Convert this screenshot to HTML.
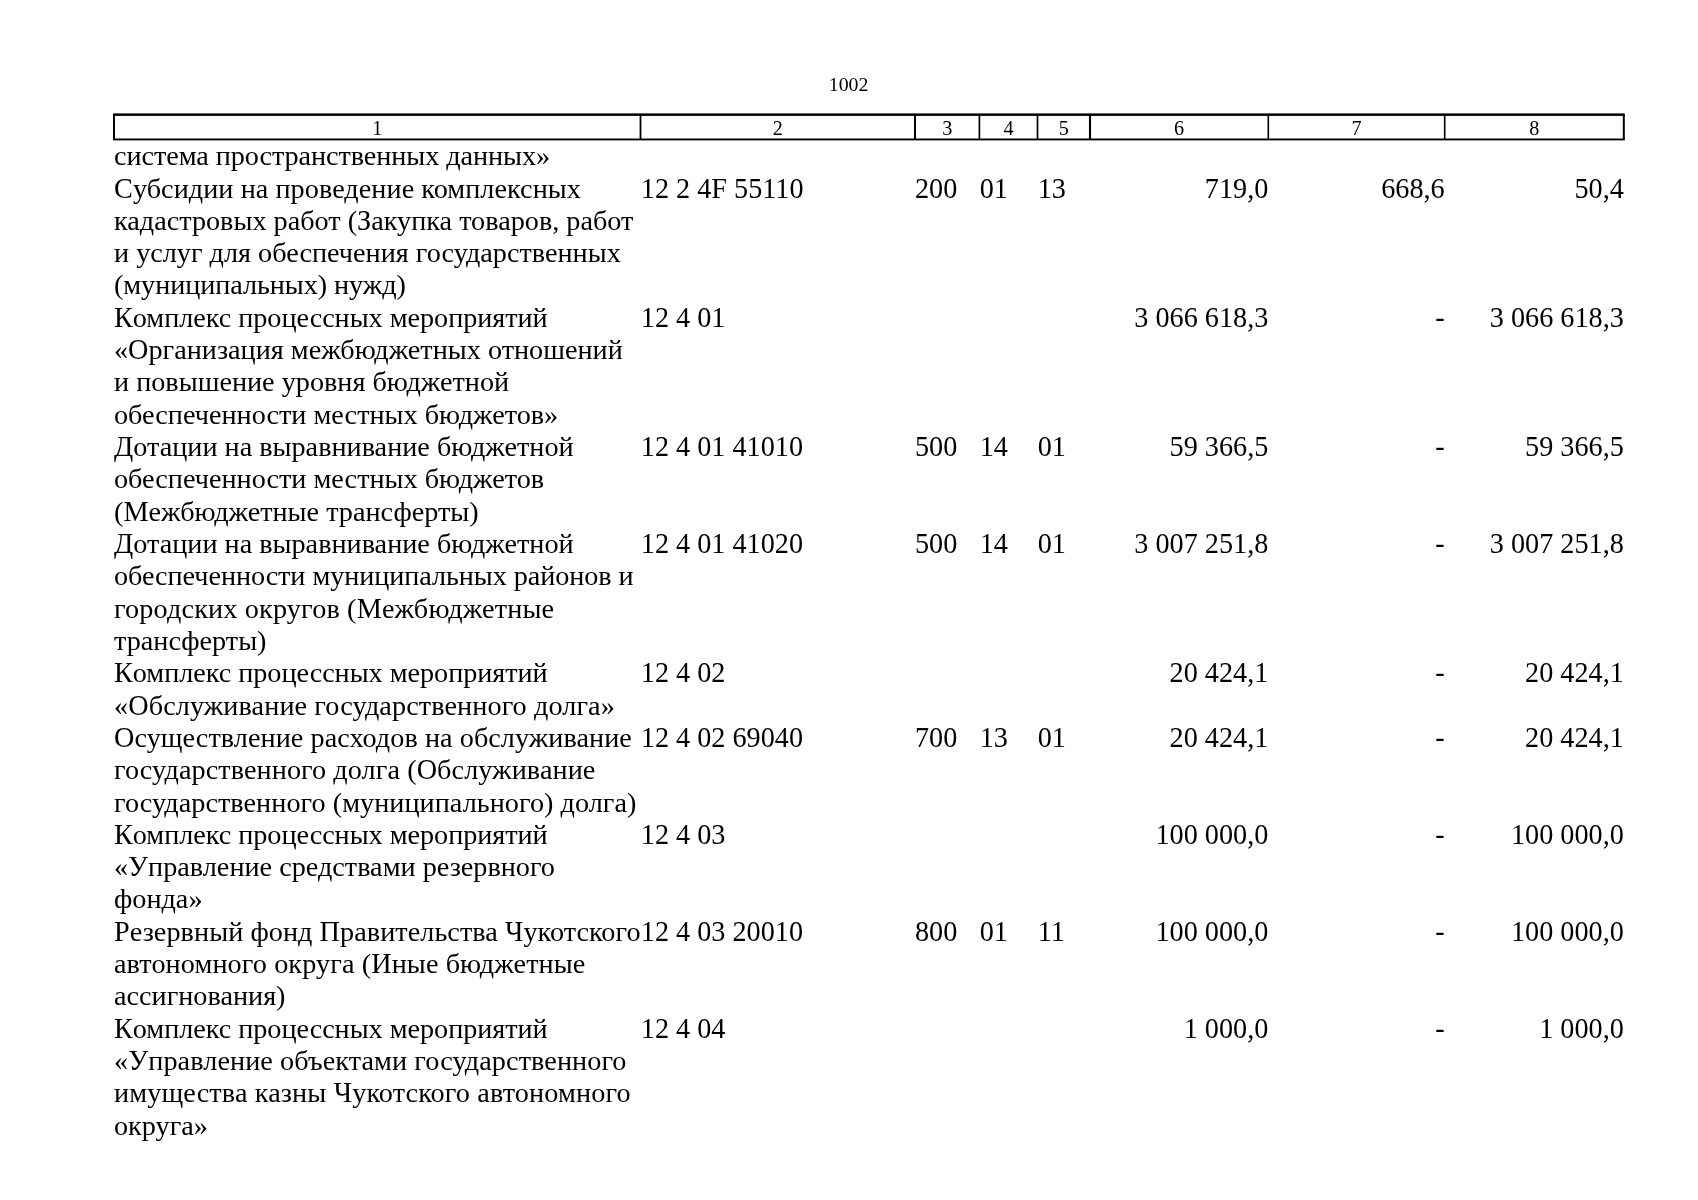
<!DOCTYPE html><html><head><meta charset="utf-8"><title>1002</title><style>
html,body{margin:0;padding:0;background:#fff;}
body{width:1698px;height:1200px;position:relative;overflow:hidden;-webkit-font-smoothing:antialiased;font-family:"Liberation Serif",serif;color:#000;}
.t{position:absolute;white-space:pre;font-size:28.23px;line-height:32.31px;height:32.31px;}
.h{position:absolute;white-space:pre;font-size:20.17px;line-height:24px;height:24px;}
.r{text-align:right;}
.c{display:inline-block;transform:scaleY(1.080);transform-origin:50% 25.68px;}
.n{transform:scaleY(1.070);transform-origin:0 25.68px;}
svg{position:absolute;left:0;top:0;}
#pg{position:absolute;left:0;top:0;width:1698px;height:1200px;will-change:transform;}
</style></head><body><div id="pg">
<div class="h" style="left:828.80px;top:72.17px;font-size:19.8px;">1002</div>
<div class="h" style="left:277.25px;top:115.99px;width:200px;text-align:center;">1</div>
<div class="h" style="left:677.75px;top:115.99px;width:200px;text-align:center;">2</div>
<div class="h" style="left:847.20px;top:115.99px;width:200px;text-align:center;">3</div>
<div class="h" style="left:908.45px;top:115.99px;width:200px;text-align:center;">4</div>
<div class="h" style="left:963.75px;top:115.99px;width:200px;text-align:center;">5</div>
<div class="h" style="left:1079.15px;top:115.99px;width:200px;text-align:center;">6</div>
<div class="h" style="left:1256.50px;top:115.99px;width:200px;text-align:center;">7</div>
<div class="h" style="left:1434.25px;top:115.99px;width:200px;text-align:center;">8</div>
<div class="t" style="left:114.00px;top:140.32px;letter-spacing:-0.074px;">система пространственных данных»</div>
<div class="t" style="left:114.00px;top:172.63px;letter-spacing:0.052px;"><span class="c">С</span>убсидии на проведение комплексных</div>
<div class="t" style="left:114.00px;top:204.94px;">кадастровых работ (<span class="c">З</span>акупка товаров, работ</div>
<div class="t" style="left:114.00px;top:237.25px;">и услуг для обеспечения государственных</div>
<div class="t" style="left:114.00px;top:268.56px;letter-spacing:-0.075px;">(муниципальных) нужд)</div>
<div class="t n" style="left:640.80px;top:172.63px;">12 2 4F 55110</div>
<div class="t n" style="left:915.00px;top:172.63px;">200</div>
<div class="t n" style="left:979.70px;top:172.63px;">01</div>
<div class="t n" style="left:1037.70px;top:172.63px;">13</div>
<div class="t n" style="right:429.70px;top:172.63px;">719,0</div>
<div class="t n" style="right:253.30px;top:172.63px;">668,6</div>
<div class="t n" style="right:74.20px;top:172.63px;">50,4</div>
<div class="t" style="left:114.00px;top:301.87px;letter-spacing:-0.040px;"><span class="c">К</span>омплекс процессных мероприятий</div>
<div class="t" style="left:114.00px;top:334.18px;">«<span class="c">О</span>рганизация межбюджетных отношений</div>
<div class="t" style="left:114.00px;top:366.49px;">и повышение уровня бюджетной</div>
<div class="t" style="left:114.00px;top:398.80px;">обеспеченности местных бюджетов»</div>
<div class="t n" style="left:640.80px;top:301.87px;">12 4 01</div>
<div class="t n" style="right:429.70px;top:301.87px;">3 066 618,3</div>
<div class="t n" style="right:253.30px;top:301.87px;">-</div>
<div class="t n" style="right:74.20px;top:301.87px;">3 066 618,3</div>
<div class="t" style="left:114.00px;top:431.11px;"><span class="c">Д</span>отации на выравнивание бюджетной</div>
<div class="t" style="left:114.00px;top:463.42px;">обеспеченности местных бюджетов</div>
<div class="t" style="left:114.00px;top:495.73px;">(<span class="c">М</span>ежбюджетные трансферты)</div>
<div class="t n" style="left:640.80px;top:431.11px;">12 4 01 41010</div>
<div class="t n" style="left:915.00px;top:431.11px;">500</div>
<div class="t n" style="left:979.70px;top:431.11px;">14</div>
<div class="t n" style="left:1037.70px;top:431.11px;">01</div>
<div class="t n" style="right:429.70px;top:431.11px;">59 366,5</div>
<div class="t n" style="right:253.30px;top:431.11px;">-</div>
<div class="t n" style="right:74.20px;top:431.11px;">59 366,5</div>
<div class="t" style="left:114.00px;top:528.04px;"><span class="c">Д</span>отации на выравнивание бюджетной</div>
<div class="t" style="left:114.00px;top:560.35px;letter-spacing:-0.076px;">обеспеченности муниципальных районов и</div>
<div class="t" style="left:114.00px;top:592.66px;letter-spacing:0.157px;">городских округов (<span class="c">М</span>ежбюджетные</div>
<div class="t" style="left:114.00px;top:624.97px;">трансферты)</div>
<div class="t n" style="left:640.80px;top:528.04px;">12 4 01 41020</div>
<div class="t n" style="left:915.00px;top:528.04px;">500</div>
<div class="t n" style="left:979.70px;top:528.04px;">14</div>
<div class="t n" style="left:1037.70px;top:528.04px;">01</div>
<div class="t n" style="right:429.70px;top:528.04px;">3 007 251,8</div>
<div class="t n" style="right:253.30px;top:528.04px;">-</div>
<div class="t n" style="right:74.20px;top:528.04px;">3 007 251,8</div>
<div class="t" style="left:114.00px;top:657.28px;letter-spacing:-0.040px;"><span class="c">К</span>омплекс процессных мероприятий</div>
<div class="t" style="left:114.00px;top:689.59px;letter-spacing:0.092px;">«<span class="c">О</span>бслуживание государственного долга»</div>
<div class="t n" style="left:640.80px;top:657.28px;">12 4 02</div>
<div class="t n" style="right:429.70px;top:657.28px;">20 424,1</div>
<div class="t n" style="right:253.30px;top:657.28px;">-</div>
<div class="t n" style="right:74.20px;top:657.28px;">20 424,1</div>
<div class="t" style="left:114.00px;top:721.90px;letter-spacing:0.049px;"><span class="c">О</span>существление расходов на обслуживание</div>
<div class="t" style="left:114.00px;top:754.21px;letter-spacing:0.077px;">государственного долга (<span class="c">О</span>бслуживание</div>
<div class="t" style="left:114.00px;top:786.52px;letter-spacing:0.038px;">государственного (муниципального) долга)</div>
<div class="t n" style="left:640.80px;top:721.90px;">12 4 02 69040</div>
<div class="t n" style="left:915.00px;top:721.90px;">700</div>
<div class="t n" style="left:979.70px;top:721.90px;">13</div>
<div class="t n" style="left:1037.70px;top:721.90px;">01</div>
<div class="t n" style="right:429.70px;top:721.90px;">20 424,1</div>
<div class="t n" style="right:253.30px;top:721.90px;">-</div>
<div class="t n" style="right:74.20px;top:721.90px;">20 424,1</div>
<div class="t" style="left:114.00px;top:818.83px;letter-spacing:-0.040px;"><span class="c">К</span>омплекс процессных мероприятий</div>
<div class="t" style="left:114.00px;top:851.14px;">«<span class="c">У</span>правление средствами резервного</div>
<div class="t" style="left:114.00px;top:883.45px;">фонда»</div>
<div class="t n" style="left:640.80px;top:818.83px;">12 4 03</div>
<div class="t n" style="right:429.70px;top:818.83px;">100 000,0</div>
<div class="t n" style="right:253.30px;top:818.83px;">-</div>
<div class="t n" style="right:74.20px;top:818.83px;">100 000,0</div>
<div class="t" style="left:114.00px;top:915.76px;letter-spacing:0.053px;"><span class="c">Р</span>езервный фонд <span class="c">П</span>равительства <span class="c">Ч</span>укотского</div>
<div class="t" style="left:114.00px;top:948.07px;letter-spacing:0.097px;">автономного округа (<span class="c">И</span>ные бюджетные</div>
<div class="t" style="left:114.00px;top:980.38px;">ассигнования)</div>
<div class="t n" style="left:640.80px;top:915.76px;">12 4 03 20010</div>
<div class="t n" style="left:915.00px;top:915.76px;">800</div>
<div class="t n" style="left:979.70px;top:915.76px;">01</div>
<div class="t n" style="left:1037.70px;top:915.76px;">11</div>
<div class="t n" style="right:429.70px;top:915.76px;">100 000,0</div>
<div class="t n" style="right:253.30px;top:915.76px;">-</div>
<div class="t n" style="right:74.20px;top:915.76px;">100 000,0</div>
<div class="t" style="left:114.00px;top:1012.69px;letter-spacing:-0.040px;"><span class="c">К</span>омплекс процессных мероприятий</div>
<div class="t" style="left:114.00px;top:1045.00px;letter-spacing:0.078px;">«<span class="c">У</span>правление объектами государственного</div>
<div class="t" style="left:114.00px;top:1077.31px;letter-spacing:0.135px;">имущества казны <span class="c">Ч</span>укотского автономного</div>
<div class="t" style="left:114.00px;top:1109.62px;">округа»</div>
<div class="t n" style="left:640.80px;top:1012.69px;">12 4 04</div>
<div class="t n" style="right:429.70px;top:1012.69px;">1 000,0</div>
<div class="t n" style="right:253.30px;top:1012.69px;">-</div>
<div class="t n" style="right:74.20px;top:1012.69px;">1 000,0</div>
<svg width="1698" height="1200" viewBox="0 0 1698 1200"><rect x="113.00" y="113.40" width="1511.80" height="2.50" fill="#000"/><rect x="113.00" y="138.50" width="1511.80" height="1.90" fill="#000"/><rect x="113.00" y="114.90" width="2.00" height="24.40" fill="#000"/><rect x="639.60" y="114.90" width="1.80" height="24.40" fill="#000"/><rect x="914.00" y="114.90" width="2.00" height="24.40" fill="#000"/><rect x="978.55" y="114.90" width="1.70" height="24.40" fill="#000"/><rect x="1036.65" y="114.90" width="1.70" height="24.40" fill="#000"/><rect x="1088.95" y="114.90" width="2.10" height="24.40" fill="#000"/><rect x="1267.50" y="114.90" width="1.60" height="24.40" fill="#000"/><rect x="1443.90" y="114.90" width="1.60" height="24.40" fill="#000"/><rect x="1622.80" y="114.90" width="2.00" height="24.40" fill="#000"/></svg>
</div></body></html>
